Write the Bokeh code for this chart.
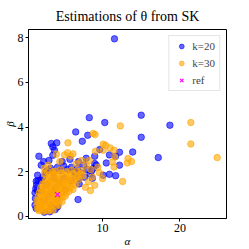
from bokeh.plotting import figure
from bokeh.models import Range1d, FixedTicker, Legend, LegendItem
from bokeh.embed import file_html
from bokeh.resources import INLINE

# ---- data ----
k20_alpha = [11.55, 15.0, 18.7, 15.0, 13.9, 17.2, 12.2, 12.2, 8.3, 10.3, 6.55, 7.4, 8.1,
             3.4, 4.1, 3.6, 3.6, 1.8, 9.65, 10.9, 11.7, 10.5, 9.0, 8.6, 8.8, 10.9, 11.7,
             10.1, 2.1, 2.7, 1.46, 1.4, 6.85, 4.2, 3.8, 1.63, 2.06,
             2.9, 3.3, 3.7, 4.2, 4.6, 5.0, 5.5, 6.0, 6.4, 6.8, 7.2, 7.6, 8.0, 8.4, 7.9,
             6.9, 5.8, 4.8, 2.4, 3.1, 9.2, 9.0, 8.7, 7.7, 7.0, 6.6,
             1.3, 1.35, 1.3, 1.5, 1.7, 1.45, 1.6, 2.3,
             3.9, 3.2, 2.5, 7.0,
             2.0, 2.5, 3.0, 3.5, 4.0, 4.5, 5.0, 2.8, 3.3, 4.2, 5.2, 6.0, 2.2, 3.7]
k20_beta = [7.95, 4.53, 4.08, 3.54, 2.88, 2.63, 2.87, 2.29, 4.42, 4.2, 3.78, 3.36, 3.63,
            3.26, 3.29, 3.11, 2.73, 2.69, 2.99, 2.75, 2.69, 2.39, 2.36, 2.03, 2.14, 1.88, 1.82,
            1.84, 2.29, 1.99, 1.57, 1.24, 0.75, 0.42, 2.96, 1.84, 1.61,
            2.05, 2.15, 1.95, 2.2, 2.05, 2.25, 2.1, 2.2, 2.0, 2.15, 1.95, 2.3, 2.1, 1.9, 2.6,
            2.45, 2.55, 2.45, 2.45, 2.5, 2.29, 2.69, 1.7, 1.75, 1.7, 1.85,
            0.5, 0.8, 1.05, 1.4, 1.6, 0.35, 1.15, 1.75,
            0.3, 0.2, 0.18, 1.45,
            0.5, 0.7, 0.9, 1.1, 1.3, 1.5, 1.7, 1.4, 0.5, 0.8, 1.2, 1.6, 1.1, 1.7]

k30_alpha = [21.4, 21.4, 24.8, 13.3, 13.2, 13.75, 12.6, 12.3, 8.8, 9.05, 10.1, 11.0, 10.1,
             9.1, 11.6, 11.3, 11.5, 10.0, 8.7, 9.0, 10.4, 11.5, 5.55, 4.05, 3.0, 3.6, 5.1,
             5.5, 5.9, 6.2, 7.9, 8.5, 7.3, 6.6, 9.4, 4.5, 2.5, 8.2, 7.8, 9.6, 8.3, 8.45,
             1.8, 2.1, 2.4, 2.7, 3.0, 3.3, 3.6, 2.0, 1.65,
             1.55, 1.9, 2.25, 2.6, 2.95, 3.3, 3.65, 4.0, 4.35, 1.75,
             1.6, 2.0, 2.35, 2.7, 3.05, 3.4, 3.75, 4.1, 4.45, 4.8,
             1.7, 2.05, 2.4, 2.75, 3.1, 3.45, 3.8, 4.15, 4.5, 4.85, 5.2,
             1.85, 2.2, 2.55, 2.9, 3.25, 3.6, 3.95, 4.3, 4.65, 5.0, 5.35, 5.7,
             2.0, 2.35, 2.7, 3.05, 3.4, 3.75, 4.1, 4.45, 4.8, 5.15, 5.5, 5.85, 6.2,
             2.3, 2.65, 3.0, 3.35, 3.7, 4.05, 4.4, 4.75, 5.1, 5.45, 5.8, 6.15, 6.5,
             2.7, 3.1, 3.5, 3.9, 4.3, 4.7, 5.1, 5.5, 5.9, 6.3, 6.7, 7.0,
             3.2, 3.7, 4.2, 4.7, 5.2, 5.7, 6.2, 6.7, 7.2, 7.5,
             3.9, 4.6, 5.3, 6.0, 6.7, 7.3, 2.5, 2.9]
k30_beta = [4.2, 3.24, 2.63, 2.59, 2.39, 2.45, 1.56, 4.05, 3.71, 3.66, 3.23, 3.06, 2.96,
            2.91, 2.66, 2.43, 2.21, 1.69, 1.76, 1.39, 3.18, 2.96, 3.29, 2.78, 2.29, 1.99, 2.75,
            2.85, 2.7, 2.8, 2.29, 2.1, 2.5, 2.35, 2.2, 2.45, 2.15, 1.55, 1.3, 1.95, 2.5, 1.15,
            0.25, 0.3, 0.22, 0.28, 0.24, 0.32, 0.27, 0.38, 0.33,
            0.48, 0.45, 0.52, 0.44, 0.5, 0.46, 0.53, 0.45, 0.5, 0.6,
            0.7, 0.65, 0.72, 0.62, 0.7, 0.66, 0.74, 0.63, 0.7, 0.66,
            0.88, 0.82, 0.9, 0.84, 0.93, 0.85, 0.9, 0.82, 0.92, 0.86, 0.9,
            1.05, 1.1, 1.02, 1.12, 1.04, 1.1, 1.0, 1.13, 1.05, 1.1, 1.03, 1.12,
            1.25, 1.3, 1.22, 1.33, 1.26, 1.2, 1.32, 1.24, 1.3, 1.22, 1.34, 1.27, 1.2,
            1.45, 1.5, 1.42, 1.53, 1.46, 1.4, 1.52, 1.44, 1.5, 1.42, 1.54, 1.46, 1.4,
            1.65, 1.7, 1.62, 1.73, 1.66, 1.6, 1.72, 1.64, 1.7, 1.62, 1.74, 1.66,
            1.85, 1.9, 1.82, 1.93, 1.86, 1.8, 1.92, 1.84, 1.9, 1.82,
            2.02, 2.08, 2.0, 2.06, 2.02, 2.05, 1.9, 2.0]

ref_alpha = [4.2]
ref_beta = [0.97]

x_ticks = [10, 20]
y_ticks = [0, 2, 4, 6, 8]

SERIF = "Liberation Serif"

p = figure(frame_width=198, frame_height=189, output_backend="svg", toolbar_location=None,
           x_range=Range1d(0.46, 26.0), y_range=Range1d(-0.1, 8.37),
           min_border_left=21, min_border_right=6, min_border_top=21, min_border_bottom=4,
           title="Estimations of θ from SK")

r1 = p.scatter(k20_alpha, k20_beta, marker="circle", size=6.5,
               fill_color="blue", line_color="blue", fill_alpha=0.6, line_alpha=0.6)
r2 = p.scatter(k30_alpha, k30_beta, marker="circle", size=6.5,
               fill_color="orange", line_color="orange", fill_alpha=0.6, line_alpha=0.6)
r3 = p.scatter(ref_alpha, ref_beta, marker="x", size=7, line_color="magenta", line_width=1.2)

legend = Legend(items=[LegendItem(label="k=20", renderers=[r1]),
                       LegendItem(label="k=30", renderers=[r2]),
                       LegendItem(label="ref", renderers=[r3])],
                location="top_right")
legend.label_text_font = SERIF
legend.label_text_font_size = "11px"
legend.glyph_width = 16
legend.glyph_height = 12
legend.label_height = 12
legend.spacing = 5
legend.padding = 4
legend.margin = 6
legend.label_standoff = 3
legend.border_line_color = "#cccccc"
legend.border_line_width = 1
legend.background_fill_alpha = 0.8
p.add_layout(legend)

p.title.text_font = SERIF
p.title.text_font_size = "14px"
p.title.text_font_style = "normal"
p.title.align = "center"
p.title.standoff = 12
p.title.text_color = "black"

p.xaxis.ticker = FixedTicker(ticks=x_ticks)
p.yaxis.ticker = FixedTicker(ticks=y_ticks)
p.xaxis.axis_label = "α"
p.yaxis.axis_label = "β"
for ax in (p.xaxis, p.yaxis):
    ax.minor_tick_line_color = None
    ax.major_tick_in = 0
    ax.major_tick_out = 3
    ax.major_label_standoff = 2
    ax.major_label_text_font = SERIF
    ax.major_label_text_font_size = "12px"
    ax.major_label_text_color = "black"
    ax.axis_label_text_font = SERIF
    ax.axis_label_text_font_size = "11px"
    ax.axis_label_text_font_style = "italic"
    ax.axis_label_text_color = "black"
    ax.axis_line_color = "black"
    ax.major_tick_line_color = "black"
p.xaxis.axis_label_standoff = 0
p.yaxis.axis_label_standoff = -1

p.grid.visible = False
p.outline_line_color = "black"
p.outline_line_alpha = 1
p.background_fill_color = "white"
p.border_fill_color = "white"

open("out.html", "w").write(file_html(p, INLINE))
